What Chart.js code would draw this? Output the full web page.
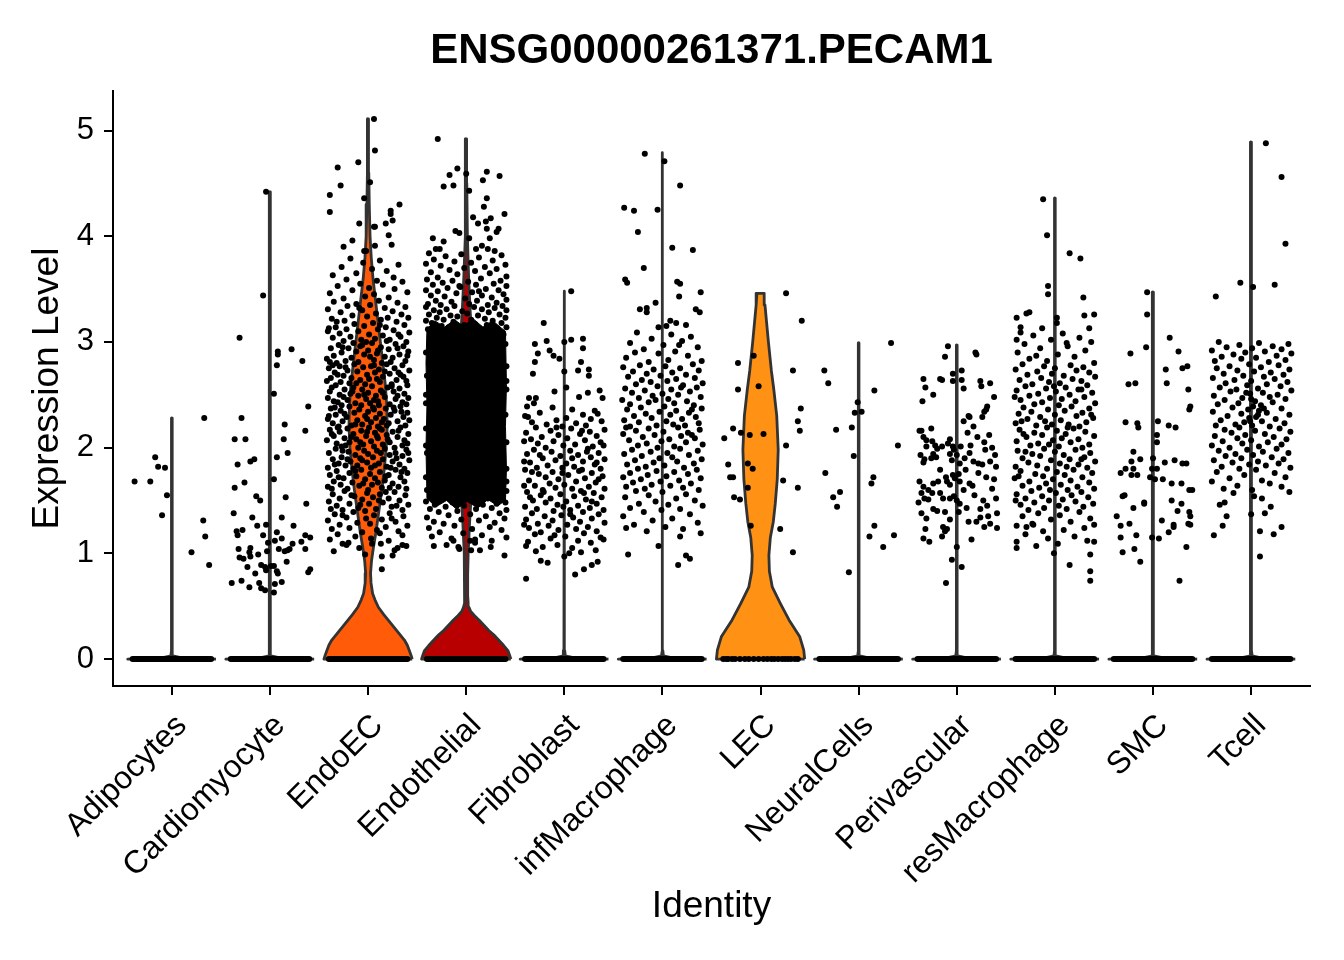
<!DOCTYPE html>
<html>
<head>
<meta charset="utf-8">
<script src="https://cdn.jsdelivr.net/npm/chart.js@4.4.1/dist/chart.umd.min.js"></script>
<style>
  html, body { margin: 0; padding: 0; background: #fff; }
  #wrap { width: 1344px; height: 960px; }
</style>
</head>
<body>
<div id="wrap"><canvas id="vln" width="1344" height="960" style="width:1344px;height:960px"></canvas></div>
<script>
const plotTitle = 'ENSG00000261371.PECAM1';
const categories = ['Adipocytes', 'Cardiomyocyte', 'EndoEC', 'Endothelial', 'Fibroblast', 'infMacrophage',
  'LEC', 'NeuralCells', 'Perivascular', 'resMacrophage', 'SMC', 'Tcell'];
const yTicks = [0, 1, 2, 3, 4, 5];

// max expression per identity (top of the trimmed violin)
const violinTops = [2.28, 4.42, 5.11, 4.92, 3.48, 4.79, 3.46, 2.99, 2.97, 4.36, 3.47, 4.89];
// identities whose zero cells pile up into a solid band
const denseZeros = [true, true, true, true, true, true, false, true, true, true, true, true];
const fillColors = ['#FFD92F', '#E78AC3', '#FF5B09', '#B80000', '#A6D854', '#8DA0CB',
  '#FF9214', '#66C2A5', '#FC8D62', '#E5C494', '#B3B3B3', '#1F78B4'];

// violin outlines as [expression, half width]
const spikeViolin = [[0,.45],[.008,.3],[.016,.08],[.03,.01],[.08,.004]];
const endoECViolin = [[0,.45],[.03,.44],[.08,.42],[.13,.40],[.18,.37],[.26,.30],[.34,.23],[.42,.16],[.49,.105],
  [.56,.07],[.62,.046],[.72,.03],[.81,.025],[.93,.035],[1.06,.055],[1.2,.08],[1.4,.11],[1.6,.14],[1.8,.165],
  [2.0,.185],[2.2,.195],[2.4,.19],[2.6,.175],[2.8,.15],[3.0,.125],[3.2,.10],[3.4,.075],[3.6,.05],[3.8,.032],
  [4.0,.02],[4.3,.012],[4.6,.007],[5.11,.004]];
const endothelialViolin = [[0,.455],[.03,.445],[.08,.425],[.13,.38],[.18,.33],[.23,.28],[.27,.23],[.32,.18],
  [.37,.13],[.41,.085],[.45,.046],[.49,.028],[.53,.02],[.6,.015],[.8,.015],[1.0,.02],[1.3,.035],[1.6,.055],
  [2.0,.08],[2.3,.09],[2.6,.085],[3.0,.06],[3.3,.04],[3.6,.025],[4.0,.012],[4.5,.006],[4.92,.004]];
const lecViolin = [[0,.45],[.085,.44],[.21,.40],[.37,.29],[.53,.20],[.68,.12],[.83,.09],[.98,.085],[1.15,.10],
  [1.3,.13],[1.47,.15],[1.7,.17],[1.98,.18],[2.3,.165],[2.55,.135],[2.73,.11],[3.0,.08],[3.2,.06],[3.35,.045],
  [3.46,.037]];
const violinShapes = [null, null, endoECViolin, endothelialViolin, null, null, lecViolin, null, null, null, null, null];

// cells as [jitter offset, expression]
const adipocytesPts = [[-.38,1.68],[-.22,1.68],[-.17,1.91],[-.14,1.82],[-.07,1.81],[-.05,1.55],[-.10,1.36],
  [.33,2.28],[.32,1.31],[.34,1.16],[.20,1.01],[.38,.89]];
const cardiomyocytePts = [[-.04,4.42],[-.07,3.44],[-.31,3.04],[.08,2.91],[.08,2.88],[.22,2.93],[.33,2.82],[.07,2.78],
  [.04,2.51],[-.29,2.28],[.39,2.39],[.15,2.22],[.36,2.16],[-.36,2.08],[-.25,2.08],[.14,2.08],[-.33,1.84],[-.20,1.87],
  [-.16,1.89],[.18,1.95],[.07,1.91],[.04,1.70],[-.36,1.62],[-.26,1.67],[-.14,1.54],[-.10,1.50],[.16,1.53],[.37,1.47],
  [-.37,1.38],[-.18,1.34],[-.13,1.26],[-.04,1.27],[.12,1.34],[.24,1.26],[-.34,1.21],[-.28,1.22],[-.33,1.17],[-.07,1.17],
  [.07,1.20],[-.02,1.10],[.05,1.12],[.12,1.14],[.36,1.17],[.41,1.15],[.32,1.11],[.23,1.09],[-.32,1.04],[-.20,1.05],
  [-.21,1.01],[-.20,.97],[-.12,.99],[-.03,1.02],[.09,1.04],[.15,1.02],[.18,1.03],[.20,1.04],[.36,1.04],[-.31,.96],
  [-.27,.95],[-.23,.87],[-.09,.89],[-.05,.87],[.01,.88],[.04,.88],[-.04,.84],[.07,.83],[.08,.81],[.17,.92],[-.15,.81],
  [-.39,.72],[-.29,.74],[-.21,.68],[-.11,.72],[-.09,.67],[-.05,.65],[.04,.63],[.05,.71],[.12,.73],[.39,.82],[.41,.85]];
const endoECPts = [[.06,5.11],[.07,4.81],[-.31,4.65],[-.10,4.70],[-.28,4.48],[.02,4.51],[-.39,4.39],[-.39,4.23],
  [-.04,4.36],[.32,4.30],[.23,4.24],[.23,4.21],[.25,4.15],[-.09,4.12],[.18,4.12],[.06,4.09],[.07,4.09],[.21,4.01],
  [-.16,3.96],[-.25,3.90],[.24,3.92],[-.02,3.86],[-.04,3.86],[.07,3.91],
  [-.26,1.09],[-.22,1.08],[-.03,.99],[.13,1.09],[.14,.97],[.25,.98],[.30,1.05],[.35,1.08],[.14,.85],[.04,1.09],
  [-.18,3.79],[.12,3.77],[-.05,3.75],[.31,3.73],[-.27,3.71],[.04,3.69],[.19,3.67],[-.12,3.65],[-.36,3.63],[.26,3.61],
  [-.22,3.59],[.09,3.58],[.35,3.57],[-.08,3.55],[.15,3.54],[-.31,3.53],[.01,3.51],[.27,3.50],[-.16,3.49],[.40,3.47],
  [-.39,3.46],[.06,3.45],[-.03,3.43],[.21,3.42],[-.25,3.41],
  [.11,3.39],[-.35,3.38],[.30,3.37],[-.12,3.36],[.02,3.35],[-.21,3.34],[.38,3.33],[.17,3.32],[-.41,3.31],[-.06,3.30],
  [.25,3.29],[-.28,3.28],[.08,3.27],[.34,3.26],[-.16,3.25],[-.01,3.24],[.20,3.23],[-.37,3.22],[.13,3.21],[-.24,3.20],
  [.41,3.23],[-.09,3.32],
  [.29,3.19],[-.32,3.19],[.05,3.18],[-.14,3.17],[.37,3.16],[-.04,3.15],[.18,3.14],[-.40,3.13],[-.22,3.12],[.10,3.12],
  [.26,3.11],[-.10,3.10],[.42,3.09],[-.29,3.08],[.01,3.07],[.15,3.06],[-.18,3.05],[.33,3.05],[-.36,3.04],[.07,3.03],
  [-.07,3.02],[.22,3.02],[-.25,3.01],[.39,3.00],[-.02,3.00],[-.41,3.10],[.12,3.16],[-.33,3.14],[.31,3.07],[.19,3.01],
  [-.15,2.99],[.04,2.99],[.28,2.98],[-.30,2.97],[.36,2.96],[-.08,2.96],[.13,2.95],[-.38,2.94],[-.20,2.94],[.21,2.93],
  [.00,2.92],[-.12,2.91],[.41,2.91],[-.27,2.90],[.09,2.89],[.32,2.88],[-.04,2.88],[-.35,2.87],[.17,2.86],[-.17,2.85],
  [.25,2.85],[-.42,2.84],[.06,2.83],[-.23,2.82],[.38,2.82],[-.10,2.81],[.14,2.80],[-.32,2.80],[.02,2.86],[.30,2.94],
  [-.06,2.97],[.23,2.81],[-.26,2.95],[.40,2.87],[.10,2.92],[-.39,2.81],
  [.19,2.79],[-.14,2.79],[.35,2.78],[-.29,2.77],[.03,2.77],[-.05,2.76],[.27,2.75],[-.40,2.75],[.11,2.74],[-.21,2.73],
  [.42,2.73],[-.11,2.72],[.07,2.71],[-.34,2.71],[.22,2.70],[-.01,2.69],[.33,2.69],[-.25,2.68],[.15,2.67],[-.17,2.66],
  [-.38,2.66],[.01,2.65],[.29,2.64],[-.08,2.64],[.39,2.63],[-.28,2.62],[.12,2.62],[-.19,2.61],[.24,2.60],[-.03,2.60],
  [-.42,2.63],[.06,2.78],[-.31,2.69],[.36,2.67],[.17,2.72],[-.23,2.76],[.09,2.65],[-.12,2.61],[.31,2.71],[-.36,2.78],
  [.40,2.59],[-.33,2.59],[.04,2.58],[-.15,2.57],[.20,2.57],[.32,2.56],[-.24,2.55],[-.06,2.55],[.13,2.54],[-.39,2.53],
  [.26,2.53],[.00,2.52],[-.18,2.51],[.37,2.51],[-.29,2.50],[.08,2.49],[-.10,2.49],[.17,2.48],[-.41,2.47],[.41,2.47],
  [-.02,2.46],[.28,2.46],[-.21,2.45],[.10,2.44],[-.35,2.44],[.35,2.43],[-.13,2.42],[.02,2.42],[.22,2.41],[-.27,2.40],
  [-.07,2.40],[.15,2.52],[-.37,2.57],[.30,2.49],[-.25,2.48],[.06,2.45],[-.16,2.53],[.39,2.41],[-.31,2.43],[.24,2.58],
  [-.04,2.50],[.11,2.40],
  [-.19,2.39],[.33,2.39],[.05,2.38],[-.38,2.37],[.18,2.37],[-.09,2.36],[.27,2.35],[-.28,2.35],[.00,2.34],[.40,2.33],
  [-.14,2.33],[.12,2.32],[-.33,2.31],[.23,2.31],[-.03,2.30],[-.22,2.29],[.36,2.29],[.08,2.28],[-.41,2.27],[.16,2.27],
  [-.11,2.26],[.30,2.25],[-.26,2.25],[.03,2.24],[-.36,2.23],[.21,2.23],[-.06,2.22],[.38,2.21],[-.17,2.21],[.10,2.20],
  [-.30,2.20],[.26,2.38],[-.24,2.32],[.14,2.24],[-.01,2.27],[.34,2.34],[-.40,2.30],[.06,2.36],[-.13,2.22],[.42,2.26],
  [-.34,2.38],[.19,2.21],
  [.01,2.19],[.33,2.19],[-.21,2.18],[.14,2.17],[-.39,2.17],[-.07,2.16],[.25,2.15],[-.29,2.15],[.07,2.14],[.41,2.13],
  [-.15,2.13],[.19,2.12],[-.35,2.11],[-.02,2.11],[.30,2.10],[-.24,2.09],[.10,2.09],[-.12,2.08],[.37,2.07],[-.42,2.07],
  [.03,2.06],[.22,2.05],[-.19,2.05],[-.32,2.04],[.15,2.03],[-.05,2.03],[.35,2.02],[-.27,2.01],[.06,2.01],[-.10,2.00],
  [.27,2.00],[-.37,2.13],[.12,2.18],[-.17,2.10],[.40,2.04],[-.01,2.15],[.20,2.08],[-.31,2.19],[.31,2.16],[-.08,2.05],
  [.09,2.11],[-.23,2.02],
  [.17,1.99],[-.33,1.99],[.39,1.98],[-.04,1.97],[.09,1.97],[-.20,1.96],[.28,1.95],[-.40,1.95],[.00,1.94],[-.13,1.93],
  [.22,1.93],[.35,1.92],[-.27,1.91],[.05,1.91],[-.08,1.90],[.15,1.89],[-.36,1.89],[.42,1.88],[-.18,1.87],[.25,1.87],
  [-.01,1.86],[-.30,1.85],[.11,1.85],[.32,1.84],[-.23,1.83],[-.11,1.83],[.19,1.82],[-.41,1.81],[.03,1.81],[.37,1.80],
  [-.15,1.80],[-.26,1.97],[.13,1.95],[-.06,1.88],[.29,1.90],[-.34,1.84],[.07,1.83],[.41,1.95],[-.21,1.89],[.23,1.81],
  [-.07,1.79],[.28,1.79],[-.32,1.78],[.12,1.77],[-.19,1.76],[.40,1.76],[.02,1.75],[-.39,1.74],[.21,1.74],[-.12,1.73],
  [.33,1.72],[-.25,1.71],[.07,1.71],[-.03,1.70],[.17,1.69],[-.35,1.68],[.37,1.68],[-.16,1.67],[.25,1.66],[-.28,1.65],
  [.04,1.65],[-.09,1.64],[.31,1.63],[-.41,1.63],[.14,1.62],[-.21,1.61],[.00,1.60],[.39,1.61],[-.30,1.72],[.10,1.67],
  [-.13,1.78],[.22,1.62],[-.37,1.61],[.34,1.77],[-.05,1.66],[.18,1.73],
  [-.24,1.59],[.27,1.58],[-.01,1.57],[.12,1.56],[-.36,1.56],[.38,1.55],[-.14,1.54],[.05,1.53],[-.29,1.52],[.21,1.52],
  [-.06,1.51],[.32,1.50],[-.40,1.49],[.15,1.48],[-.19,1.47],[.01,1.47],[.41,1.46],[-.32,1.45],[.24,1.44],[-.10,1.43],
  [.08,1.42],[-.26,1.41],[.35,1.41],[-.03,1.40],[.18,1.58],[-.38,1.42],[-.17,1.55],[.29,1.45],[-.08,1.46],[.11,1.50],
  [-.15,1.39],[.22,1.38],[-.34,1.37],[.06,1.36],[.36,1.35],[-.22,1.34],[-.02,1.33],[.14,1.32],[-.41,1.31],[.28,1.30],
  [-.11,1.29],[.02,1.28],[-.29,1.27],[.40,1.26],[.18,1.25],[-.19,1.24],[-.37,1.23],[.09,1.22],[.31,1.21],[-.06,1.20],
  [-.26,1.36],[.24,1.33],
  [.12,1.19],[-.31,1.18],[.35,1.17],[-.13,1.16],[.03,1.14],[-.39,1.13],[.21,1.12],[-.20,1.10],[.39,1.07],[-.09,1.05],
  [.27,1.03],[-.35,1.02]];
const endothelialPts = [[-.29,4.92],[-.09,4.64],[-.17,4.58],[-.23,4.47],[-.13,4.48],[.00,4.59],[.03,4.43],[.21,4.61],
  [.17,4.53],[.34,4.57],[.21,4.36],[.18,4.28],[.39,4.21],[.07,4.18],[.25,4.17],[.20,4.14],[.12,4.12],[.21,4.07],
  [.33,4.07],[.31,4.04],[-.11,4.05],[-.07,4.03],[-.34,3.98],[.03,3.98],[.24,3.98],[-.23,3.95],[.16,3.91],[-.27,3.88],
  [-.31,3.88],[.29,3.86],[.10,3.88],[.22,3.88],
  [-.38,3.84],[-.05,3.83],[.36,3.82],[-.21,3.81],[.13,3.80],[-.33,3.78],[.27,3.77],[-.12,3.76],[.05,3.75],[-.41,3.74],
  [.40,3.73],[-.26,3.72],[.19,3.71],[-.02,3.70],[.31,3.69],[-.17,3.68],[.09,3.67],[-.36,3.66],[.24,3.65],[-.09,3.64],
  [.41,3.62],[-.29,3.61],
  [.15,3.60],[-.40,3.59],[.35,3.58],[-.14,3.58],[.02,3.57],[-.24,3.56],[.28,3.55],[-.34,3.54],[.10,3.54],[.41,3.53],
  [-.06,3.52],[-.19,3.51],[.20,3.50],[-.41,3.49],[.33,3.49],[-.29,3.48],[.06,3.47],[-.10,3.46],[.38,3.45],[.16,3.44],
  [-.36,3.44],[-.22,3.43],[.26,3.42],[-.01,3.41],[.41,3.40],[-.31,3.39],[.11,3.39],[-.15,3.38],[.31,3.37],[-.39,3.36],
  [.03,3.36],[.22,3.35],[-.26,3.35],[-.07,3.53],[.13,3.48],
  [.37,3.34],[-.12,3.34],[-.41,3.33],[.08,3.33],[.29,3.32],[-.20,3.31],[.16,3.31],[-.33,3.30],[.41,3.30],[-.04,3.29],
  [.23,3.28],[-.27,3.28],[.01,3.27],[-.38,3.26],[.34,3.26],[-.16,3.25],[.12,3.25],[-.09,3.24],[.40,3.23],[-.30,3.23],
  [.19,3.22],[-.23,3.21],[.05,3.21],[-.41,3.20],[.27,3.20],[-.13,3.19],[.36,3.18],[-.35,3.18],[.09,3.17],[-.02,3.16],
  [.21,3.16],[-.25,3.15],[.41,3.14],[-.18,3.14],[.14,3.13],[-.39,3.12],[.31,3.12],[-.07,3.11],[-.30,3.10],[.03,3.10],
  [.25,3.09],[-.14,3.08],[.38,3.07],[-.36,3.07],[.17,3.06],
  [-.41,1.72],[.41,1.80],[-.40,1.95],[.41,2.05],[-.41,2.18],[.40,2.31],[-.41,2.42],[.41,2.55],[-.40,2.68],[.41,2.77],
  [-.41,2.90],[.40,2.98],[-.41,2.02],[.41,2.63],[-.41,2.50],[.41,1.68],
  [-.40,1.60],[.41,1.59],[-.30,1.58],[.28,1.57],[-.17,1.56],[.14,1.56],[.02,1.55],[-.36,1.54],[.36,1.53],[-.07,1.53],
  [.22,1.52],[-.26,1.51],[.07,1.50],[-.41,1.49],[.40,1.48],[-.14,1.48],[.31,1.47],[-.32,1.46],[.17,1.46],[-.02,1.45],
  [-.21,1.44],[.26,1.43],[-.37,1.42],[.10,1.42],[.41,1.41],[-.09,1.40],[-.28,1.39],[.34,1.38],[.04,1.37],[-.18,1.36],
  [.20,1.35],[-.40,1.34],[.39,1.33],[-.05,1.32],[.13,1.31],[-.33,1.30],[.29,1.29],[-.23,1.28],[-.12,1.26],[.24,1.25],
  [-.38,1.24],[.06,1.23],[.36,1.22],[-.27,1.20],[-.03,1.19],[.16,1.17],[-.35,1.16],[.41,1.15],[-.15,1.14],[.26,1.12],
  [.09,1.10],[-.33,1.07],[-.20,1.08],[-.13,1.12],[-.08,1.06],[-.07,1.04],[.05,1.03],[.14,1.03],[.25,1.06],[.39,.98],
  [.04,1.12],[.09,1.13]];
// region of the Endothelial cloud where overlapping cells leave no gap
const endothelialSolid = [[-.40,1.52],[-.41,2.0],[-.40,2.4],[-.41,2.8],[-.40,3.12],[-.32,3.2],[-.22,3.14],[-.12,3.21],
  [-.03,3.15],[.07,3.22],[.17,3.14],[.27,3.2],[.36,3.13],[.40,3.1],[.41,2.6],[.40,2.2],[.41,1.8],[.40,1.5],
  [.32,1.45],[.22,1.51],[.12,1.43],[.01,1.49],[-.1,1.42],[-.2,1.5],[-.31,1.44]];
const fibroblastPts = [[.07,3.48],[-.21,3.18],[-.30,2.98],[-.18,3.01],[.00,3.00],[.07,3.02],[.19,3.03],[-.27,2.89],
  [-.15,2.92],[-.11,2.87],[-.05,2.84],[.19,2.94],[-.30,2.81],[.17,2.81],[-.32,2.70],[.00,2.72],[.14,2.73],[.25,2.74],
  [.25,2.68],[.02,2.57],[-.10,2.53],[.36,2.54],[.24,2.52],[.15,2.48],[.39,2.47],[-.36,2.47],[-.29,2.47],[-.38,2.39],
  [-.31,2.42],
  [-.39,.76],[.11,.80],[.20,.85],[-.17,.91],[-.24,.93],[.28,.89],[.34,.92],[-.39,1.07],[.00,.97],[.05,1.00],
  [-.12,2.38],[.08,2.36],[.31,2.35],[-.25,2.33],[.19,2.31],[-.40,2.30],[.02,2.28],[.27,2.27],[-.08,2.26],[.38,2.25],
  [-.33,2.24],[.12,2.23],[-.18,2.22],[.22,2.21],[-.02,2.20],[-.37,2.29],[.34,2.32],
  [-.29,2.19],[.07,2.18],[.41,2.17],[-.14,2.16],[.26,2.15],[-.39,2.14],[.16,2.13],[-.06,2.12],[.33,2.11],[-.23,2.10],
  [.03,2.09],[-.34,2.08],[.21,2.07],[-.11,2.06],[.37,2.05],[-.27,2.04],[.11,2.03],[-.01,2.02],[.29,2.01],[-.19,2.00],
  [-.41,2.06],[.18,2.16],[-.08,2.19],[.40,2.02],
  [.24,1.99],[-.31,1.98],[.06,1.97],[-.13,1.96],[.35,1.95],[-.38,1.94],[.14,1.93],[-.04,1.92],[.27,1.91],[-.22,1.90],
  [.41,1.89],[-.09,1.88],[.19,1.87],[-.35,1.86],[.02,1.85],[.31,1.84],[-.17,1.83],[.10,1.82],[-.28,1.81],[.37,1.80],
  [-.02,1.81],[.23,1.96],[-.41,1.87],[.08,1.90],[-.25,1.93],[.33,1.86],
  [-.40,1.79],[.15,1.78],[-.12,1.77],[.28,1.76],[-.26,1.75],[.04,1.74],[.39,1.73],[-.19,1.72],[.21,1.71],[-.06,1.70],
  [-.36,1.69],[.12,1.68],[.32,1.67],[-.15,1.66],[.00,1.65],[-.30,1.64],[.25,1.63],[-.09,1.62],[.41,1.61],[-.22,1.60],
  [.08,1.61],[.18,1.79],[-.33,1.77],[.35,1.70],[-.02,1.76],[-.41,1.64],
  [.17,1.59],[-.38,1.58],[.30,1.57],[-.04,1.56],[-.24,1.55],[.10,1.54],[.38,1.53],[-.14,1.52],[.22,1.51],[-.32,1.50],
  [.02,1.49],[-.19,1.48],[.33,1.47],[-.07,1.46],[.14,1.45],[-.40,1.44],[.26,1.43],[-.28,1.42],[.06,1.41],[-.11,1.40],
  [.40,1.41],[-.35,1.53],[.20,1.57],[-.01,1.44],[.28,1.49],[-.21,1.58],
  [.19,1.39],[-.33,1.38],[.35,1.37],[-.03,1.36],[-.20,1.35],[.09,1.34],[.28,1.33],[-.39,1.32],[-.12,1.31],[.16,1.30],
  [.41,1.29],[-.27,1.28],[.03,1.27],[-.16,1.26],[.24,1.25],[-.36,1.24],[.12,1.23],[-.06,1.22],[.33,1.21],[-.24,1.20],
  [-.41,1.27],[.06,1.37],
  [.20,1.19],[-.30,1.18],[.01,1.16],[.37,1.15],[-.14,1.14],[.14,1.12],[-.37,1.11],[.27,1.10],[-.07,1.08],[-.22,1.06],
  [.08,1.05],[.32,1.03],[-.29,1.02],[.17,1.01],[-.10,1.17],[.40,1.13]];
const infMacrophagePts = [[-.18,4.78],[.02,4.71],[.18,4.48],[-.39,4.27],[-.29,4.24],[-.05,4.25],[-.25,4.04],[.10,3.89],
  [.31,3.87],[-.19,3.70],[-.38,3.59],[-.36,3.56],[.15,3.57],[.18,3.55],[.17,3.43],[.39,3.47],[-.07,3.37],[-.23,3.31],
  [-.16,3.32],[-.16,3.28],[.34,3.31],[.38,3.28],[-.04,3.14],[.04,3.15],[.08,3.20],[.14,3.18],[.24,3.16],
  [-.35,.99],[.16,.89],[.24,.98],[.28,.95],[-.04,1.07],[.18,1.16],[.39,1.19],[-.37,1.24],
  [-.26,3.09],[.09,3.07],[.29,3.05],[-.11,3.03],[.20,3.01],[-.33,2.99],[.01,2.97],[.36,2.95],[-.19,2.93],[.13,2.91],
  [-.04,2.89],[.26,2.87],[-.37,2.85],[.06,2.83],[-.14,2.81],[.40,2.82],[-.28,2.90],[.17,2.97],
  [.31,2.79],[-.23,2.78],[.03,2.77],[-.40,2.76],[.18,2.75],[-.09,2.74],[.37,2.73],[-.30,2.72],[.10,2.71],[-.16,2.70],
  [.24,2.69],[-.02,2.68],[-.35,2.67],[.33,2.66],[.14,2.65],[-.21,2.64],[.05,2.63],[-.12,2.62],[.41,2.61],[-.27,2.60],
  [.21,2.59],[-.05,2.58],[.35,2.57],[-.38,2.56],[.09,2.55],[-.18,2.54],[.28,2.53],[-.31,2.52],[.00,2.51],[.16,2.50],
  [-.10,2.49],[.39,2.48],[-.24,2.47],[.06,2.46],[-.41,2.45],[.25,2.44],[-.14,2.43],[.12,2.42],[-.33,2.41],[.32,2.40],
  [-.07,2.45],[.19,2.57],
  [.02,2.39],[-.22,2.38],[.40,2.37],[-.36,2.36],[.14,2.35],[-.03,2.34],[.27,2.33],[-.17,2.32],[.08,2.31],[-.29,2.30],
  [.34,2.29],[-.11,2.28],[.20,2.27],[-.39,2.26],[.04,2.25],[-.24,2.24],[.37,2.23],[.11,2.22],[-.06,2.21],[-.33,2.20],
  [.23,2.21],[.30,2.36],
  [.16,2.19],[-.14,2.18],[.38,2.17],[-.27,2.16],[.01,2.15],[.26,2.14],[-.40,2.13],[-.08,2.12],[.19,2.11],[-.20,2.10],
  [.33,2.09],[.07,2.08],[-.34,2.07],[-.01,2.06],[.24,2.05],[-.16,2.04],[.41,2.03],[-.25,2.02],[.12,2.01],[-.05,2.00],
  [.30,2.12],[-.37,2.19],
  [.18,1.99],[-.31,1.98],[.36,1.97],[-.12,1.96],[.05,1.95],[-.39,1.94],[.27,1.93],[-.21,1.92],[.10,1.91],[-.03,1.90],
  [.40,1.89],[-.28,1.88],[.15,1.87],[-.09,1.86],[.32,1.85],[-.36,1.84],[.02,1.83],[-.17,1.82],[.22,1.81],[-.25,1.80],
  [.35,1.79],[-.06,1.78],[.12,1.77],[-.33,1.76],[.26,1.75],[-.15,1.74],[.04,1.73],[-.40,1.72],[.39,1.71],[-.22,1.70],
  [.17,1.69],[-.02,1.68],[-.30,1.67],[.29,1.66],[-.11,1.65],[.08,1.64],[-.37,1.63],[.21,1.62],[-.18,1.61],[.37,1.60],
  [-.27,1.59],[.00,1.58],[.24,1.56],[-.14,1.55],[-.38,1.53],[.14,1.52],[.33,1.50],[-.07,1.49],[-.24,1.47],[.06,1.46],
  [.41,1.45],[-.33,1.43],[.18,1.42],[-.01,1.41],
  [-.19,1.39],[.28,1.37],[-.40,1.35],[.10,1.33],[-.10,1.31],[.36,1.29],[-.29,1.27],[.03,1.25],[.21,1.23],[-.16,1.21]];
const lecPts = [[-.23,2.80],[-.07,2.87],[-.23,2.55],[-.02,2.58],[.26,3.46],[.42,3.20],[.33,2.73],[.41,2.37],[.38,2.25],
  [.40,2.16],[-.37,2.09],[-.28,2.18],[-.20,2.14],[-.11,2.12],[.03,2.13],[.26,2.02],[-.33,1.84],[-.31,1.72],[-.28,1.72],
  [-.13,1.85],[-.08,1.80],[-.13,1.62],[-.27,1.53],[-.21,1.51],[.23,1.69],[.38,1.62],[-.10,1.26],[.20,1.23],[.33,1.01],
  [-.38,0],[-.35,0],[-.33,0],[-.29,0],[-.26,0],[-.21,0],[-.16,0],[-.12,0],[-.07,0],[-.02,0],[.03,0],[.07,0],[.11,0],
  [.14,0],[.18,0],[.22,0],[.25,0],[.28,0],[.31,0],[.35,0],[.38,0]];
const neuralCellsPts = [[-.35,2.73],[-.31,2.61],[-.01,2.43],[-.04,2.33],[.03,2.34],[.16,2.54],[.33,2.99],[-.23,2.17],
  [-.07,2.19],[-.05,1.92],[.40,2.02],[-.34,1.76],[-.26,1.53],[-.19,1.58],[-.22,1.44],[.15,1.72],[.13,1.66],[.16,1.26],
  [.11,1.16],[.36,1.17],[.25,1.06],[-.10,.82]];
const perivascularPts = [[-.09,2.96],[.19,2.90],[.20,2.88],[-.12,2.86],[-.34,2.65],[-.32,2.57],[-.17,2.65],[-.15,2.64],
  [-.04,2.70],[.05,2.73],[-.04,2.63],[.05,2.64],[.07,2.56],[-.24,2.50],[.24,2.63],[.34,2.61],[.25,2.58],[.38,2.48],
  [-.35,2.44],[.31,2.39],[.30,2.36],[.28,2.34],[.12,2.30],[.13,2.29],[.07,2.25],[.17,2.20],[.26,2.29],[-.38,2.16],
  [-.36,2.16],[-.26,2.18],[-.34,2.10],[-.31,2.07],[-.25,2.06],[-.31,2.01],[-.22,2.02],[-.20,1.99],[-.15,2.01],[-.07,2.08],
  [-.09,2.04],[-.04,2.01],[-.03,1.98],[.04,2.01],[.14,2.02],[.28,2.05],[.29,1.98],[-.37,1.93],[-.33,1.89],[-.34,1.86],
  [-.24,1.94],[-.26,1.90],[-.21,1.91],[-.07,1.94],[-.05,1.88],[.00,1.93],[.03,1.85],[.08,1.90],[.13,1.95],[.17,1.87],
  [.22,1.85],[.26,1.84],[.34,1.87],[.39,1.93],[.40,1.82],[-.17,1.79],[-.11,1.72],[-.04,1.74],[.02,1.75],[-.38,1.68],
  [-.34,1.63],[-.29,1.60],[-.24,1.66],[-.19,1.68],[-.10,1.68],[-.07,1.65],[-.02,1.71],[.03,1.68],[.07,1.60],[.13,1.66],
  [.16,1.64],[.27,1.50],[.36,1.61],[.40,1.52],[-.39,1.48],[-.36,1.57],[-.33,1.52],[-.29,1.51],[-.25,1.57],[-.17,1.57],
  [-.14,1.52],[-.07,1.52],[-.03,1.54],[.00,1.50],[.03,1.47],[-.36,1.38],[-.31,1.33],[-.24,1.42],[-.20,1.40],[-.12,1.39],
  [-.07,1.32],[.02,1.39],[.12,1.30],[.20,1.30],[.24,1.34],[.32,1.35],[.34,1.28],[.41,1.38],[-.32,1.23],[-.14,1.25],
  [-.10,1.23],[.15,1.13],[.41,1.24],[.28,1.25],[-.34,1.14],[-.28,1.11],[-.15,1.16],[-.12,1.21],[.00,1.06],[-.05,.94],
  [.05,.87],[-.11,.72],[.33,2.12],[.21,2.10],[.36,2.00],[.11,2.14],[.22,1.76],[.30,1.72],[.09,1.79],[.38,1.70],
  [.18,1.55],[.31,1.45],[.10,1.43],[.24,1.42]];
const resMacrophagePts = [[-.12,4.35],[-.08,4.01],[.15,3.84],[.26,3.79],[-.07,3.53],[-.07,3.45],[.29,3.42],[-.39,3.23],
  [-.29,3.27],[-.26,3.28],[.02,3.23],[.02,3.18],[.30,3.25],[.40,3.26],[-.35,3.14],[-.35,3.09],[-.13,3.13],[-.39,3.02],
  [.35,3.13],
  [-.39,1.11],[-.39,1.05],[-.01,1.00],[.15,.89],[.36,.83],[.40,1.11],[.36,.99],[-.29,1.25],[-.22,1.27],[.36,.74],
  [.08,3.08],[-.22,3.06],[.25,3.04],[-.04,3.02],[.37,3.00],[-.31,2.98],[.13,2.96],[-.15,2.94],[.31,2.92],[-.38,2.90],
  [.03,2.88],[.20,2.86],[-.26,2.84],[-.08,2.82],[.40,2.80],[.12,2.99],[-.19,2.87],
  [-.33,2.79],[.16,2.78],[-.11,2.77],[.29,2.76],[.00,2.75],[-.40,2.74],[.22,2.73],[-.18,2.72],[.35,2.71],[-.03,2.70],
  [-.28,2.69],[.09,2.68],[.41,2.67],[-.14,2.66],[.18,2.65],[-.36,2.64],[.27,2.63],[-.06,2.62],[.05,2.61],[-.23,2.60],
  [.33,2.59],[-.30,2.58],[.11,2.57],[-.09,2.56],[.24,2.55],[-.39,2.54],[.01,2.53],[.38,2.52],[-.17,2.51],[.15,2.50],
  [-.26,2.49],[.30,2.48],[-.05,2.47],[.07,2.46],[-.35,2.45],[.21,2.44],[-.13,2.43],[.41,2.42],[-.21,2.41],[.04,2.40],
  [-.41,2.48],[.27,2.55],[-.01,2.58],
  [.17,2.39],[-.32,2.38],[.35,2.37],[-.07,2.36],[.10,2.35],[-.24,2.34],[.28,2.33],[-.37,2.32],[.00,2.31],[.22,2.30],
  [-.15,2.29],[.39,2.28],[-.28,2.27],[.06,2.26],[-.10,2.25],[.32,2.24],[-.40,2.23],[.14,2.22],[-.19,2.21],[.25,2.20],
  [-.03,2.22],[.37,2.31],[-.34,2.25],
  [-.08,2.19],[.19,2.18],[-.36,2.17],[.02,2.16],[.31,2.15],[-.21,2.14],[.11,2.13],[-.13,2.12],[.40,2.11],[-.29,2.10],
  [.07,2.09],[.24,2.08],[-.02,2.07],[-.39,2.06],[.16,2.05],[-.17,2.04],[.35,2.03],[-.25,2.02],[.04,2.01],[.28,2.00],
  [-.32,2.13],[.13,2.19],[-.06,2.03],
  [-.11,1.99],[.21,1.98],[-.38,1.97],[.00,1.96],[.36,1.95],[-.23,1.94],[.09,1.93],[-.15,1.92],[.30,1.91],[-.33,1.90],
  [.15,1.89],[-.04,1.88],[.41,1.87],[-.27,1.86],[.05,1.85],[.24,1.84],[-.18,1.83],[-.40,1.82],[.33,1.81],[-.08,1.80],
  [.12,1.82],[-.30,1.96],[.27,1.89],
  [.19,1.79],[-.35,1.78],[.02,1.77],[.38,1.76],[-.20,1.75],[.10,1.74],[-.12,1.73],[.28,1.72],[-.41,1.71],[-.02,1.70],
  [.16,1.69],[-.26,1.68],[.35,1.67],[-.09,1.66],[.06,1.65],[-.33,1.64],[.23,1.63],[-.16,1.62],[.40,1.61],[-.05,1.60],
  [.13,1.60],[-.37,1.73],
  [-.24,1.59],[.27,1.58],[.01,1.57],[-.39,1.56],[.17,1.55],[-.13,1.54],[.34,1.53],[-.30,1.52],[.08,1.51],[-.06,1.50],
  [.21,1.49],[-.21,1.48],[.39,1.47],[-.35,1.46],[.04,1.45],[.29,1.44],[-.11,1.43],[.12,1.42],[-.27,1.41],[-.40,1.50],
  [.25,1.39],[-.17,1.38],[.05,1.36],[-.33,1.35],[.36,1.33],[-.04,1.32],[.16,1.30],[-.23,1.28],[-.39,1.26],[.30,1.24],
  [.09,1.22],[-.12,1.21],[.40,1.27],
  [-.30,1.18],[.20,1.16],[-.07,1.14],[.33,1.12],[.03,1.09],[-.19,1.07]];
const smcPts = [[-.06,3.47],[-.06,3.26],[-.07,2.95],[-.23,2.89],[.17,3.04],[.26,2.91],[.13,2.74],[.14,2.61],[.30,2.75],
  [.35,2.77],[-.25,2.60],[-.18,2.61],[.36,2.55],[.38,2.39],[.37,2.36],[-.28,2.24],[-.16,2.23],[-.15,2.19],[.05,2.25],
  [.16,2.21],[.23,2.19],[.04,2.12],[.04,2.05],[-.20,1.96],[-.22,1.87],[-.13,1.89],[.00,1.90],[-.01,1.80],[.04,1.80],
  [.12,1.86],[.22,1.88],[.30,1.85],[.34,1.85],[-.33,1.76],[-.28,1.80],[-.20,1.80],[-.22,1.74],[-.16,1.74],[-.03,1.72],
  [.02,1.70],[.10,1.70],[.19,1.66],[.29,1.66],[.37,1.60],[.40,1.60],[-.29,1.55],[-.31,1.54],[-.20,1.43],[-.09,1.48],
  [-.09,1.47],[.19,1.50],[.29,1.47],[.25,1.40],[.37,1.39],[.38,1.35],[-.37,1.35],[-.33,1.26],[-.24,1.28],[.09,1.31],
  [.21,1.27],[.21,1.25],[.16,1.20],[.36,1.28],[.38,1.27],[-.33,1.15],[-.17,1.17],[-.01,1.15],[.06,1.14],[-.31,1.01],
  [-.19,1.04],[-.13,.92],[.34,1.06],[.27,.74]];
const tcellPts = [[.15,4.88],[.31,4.56],[.35,3.93],[-.11,3.56],[.02,3.52],[.24,3.54],[-.36,3.43],[.09,.97],[-.38,1.17],
  [-.29,1.26],[.31,1.25],[.23,1.18],[.09,1.21],
  [-.32,1.46],[-.27,1.48],[-.25,1.35],[.00,1.37],[.14,1.38],[.03,1.54],[.11,1.52],[.20,1.44],
  [-.33,3.00],[.08,2.99],[.38,2.98],[-.12,2.97],[.22,2.96],[-.25,2.95],[.01,2.94],[.31,2.93],[-.40,2.92],[.14,2.91],
  [-.06,2.90],[.41,2.89],[-.18,2.88],[.26,2.87],[-.30,2.86],[.05,2.85],[-.10,2.84],[.35,2.83],[-.37,2.82],[.18,2.81],
  [-.02,2.79],[.28,2.78],[-.22,2.77],[.10,2.76],[-.35,2.75],[.39,2.74],[-.14,2.73],[.03,2.72],[.20,2.71],[-.28,2.70],
  [.33,2.69],[-.08,2.68],[.13,2.67],[-.39,2.66],[.24,2.65],[-.17,2.64],[.00,2.63],[.37,2.62],[-.26,2.61],[.16,2.60],
  [-.04,2.59],[.30,2.58],[-.32,2.57],[.07,2.56],[-.15,2.55],[.41,2.54],[-.21,2.53],[.12,2.52],[-.01,2.51],[.27,2.50],
  [-.38,2.49],[.19,2.48],[-.09,2.47],[.35,2.46],[-.27,2.45],[.04,2.44],[.22,2.43],[-.13,2.42],[-.34,2.41],[.10,2.40],
  [.00,2.46],[-.05,2.52],
  [.02,2.39],[-.19,2.38],[.31,2.37],[-.03,2.36],[.08,2.35],[-.39,2.34],[.16,2.33],[-.10,2.32],[.39,2.31],[-.24,2.30],
  [.05,2.29],[-.02,2.28],[.25,2.27],[-.31,2.26],[.11,2.25],[-.07,2.24],[.34,2.23],[-.16,2.22],[.01,2.21],[.19,2.20],
  [-.36,2.21],[.07,2.31],[-.01,2.25],[.13,2.37],
  [-.12,2.19],[.29,2.18],[-.27,2.17],[.04,2.16],[.40,2.15],[-.20,2.14],[.14,2.13],[-.06,2.12],[-.37,2.11],[.23,2.10],
  [-.14,2.09],[.36,2.08],[.00,2.07],[-.29,2.06],[.17,2.05],[-.09,2.04],[.31,2.03],[-.40,2.02],[.08,2.01],[-.22,2.00],
  [.26,1.99],[-.04,1.98],[-.33,1.97],[.12,1.96],[.38,1.95],[-.16,1.94],[.02,1.93],[-.26,1.92],[.21,1.91],[-.10,1.90],
  [.33,1.89],[-.38,1.88],[.07,1.87],[-.19,1.86],[.28,1.85],[-.02,1.84],[.15,1.83],[-.30,1.82],[.40,1.81],[-.12,1.80],
  [.05,1.79],[-.35,1.77],[.24,1.76],[-.07,1.74],[.35,1.72],[-.22,1.71],[.11,1.69],[-.40,1.68],[.19,1.66],[-.14,1.64],
  [.31,1.63],[-.28,1.61],[.01,1.60],[.39,1.58],[-.18,1.57]];
const pointSets = [adipocytesPts, cardiomyocytePts, endoECPts, endothelialPts, fibroblastPts, infMacrophagePts,
  lecPts, neuralCellsPts, perivascularPts, resMacrophagePts, smcPts, tcellPts];

const FONT = '"Liberation Sans", Arial, Helvetica, sans-serif';
const JITTER = 0.4;

const datasets = [];
categories.forEach((name, i) => {
  const c = i + 1;
  const shape = violinShapes[i] || spikeViolin.concat([[violinTops[i], 0.003]]);
  const right = shape.map(([y, w]) => ({ x: c + w, y }));
  const left = shape.slice().reverse().map(([y, w]) => ({ x: c - w, y }));
  datasets.push({
    type: 'line',
    data: right.concat(left, [right[0]]),
    borderColor: '#333333',
    borderWidth: 2.8,
    borderJoinStyle: 'round',
    backgroundColor: fillColors[i],
    fill: 'shape',
    pointRadius: 0,
    tension: 0,
    order: 3
  });
  if (denseZeros[i]) {
    datasets.push({
      type: 'line',
      data: [{ x: c - JITTER, y: 0 }, { x: c + JITTER, y: 0 }],
      borderColor: '#000',
      borderWidth: 6,
      borderCapStyle: 'round',
      pointRadius: 0,
      fill: false,
      order: 2
    });
  }
  datasets.push({
    type: 'scatter',
    data: pointSets[i].map(([dx, y]) => ({ x: c + dx, y })),
    backgroundColor: '#000',
    borderWidth: 0,
    pointRadius: 3,
    order: 0
  });
});

const solid = endothelialSolid.map(([dx, y]) => ({ x: 4 + dx, y }));
datasets.push({
  type: 'line',
  data: solid.concat([solid[0]]),
  borderColor: '#000',
  borderWidth: 1,
  backgroundColor: '#000',
  fill: 'shape',
  pointRadius: 0,
  tension: 0,
  order: 1
});

const titlePlugin = {
  id: 'plotTitle',
  afterDraw(chart) {
    const { ctx, chartArea } = chart;
    ctx.save();
    ctx.font = 'bold 42px ' + FONT;
    ctx.fillStyle = '#000';
    ctx.textAlign = 'center';
    ctx.textBaseline = 'alphabetic';
    ctx.fillText(plotTitle, (chartArea.left + chartArea.right) / 2, 63);
    ctx.restore();
  }
};

Chart.defaults.font.family = FONT;
Chart.defaults.color = '#000';

new Chart(document.getElementById('vln'), {
  type: 'scatter',
  data: { datasets },
  plugins: [titlePlugin],
  options: {
    responsive: false,
    animation: false,
    devicePixelRatio: 1,
    events: [],
    layout: { padding: { left: 0, right: 34, top: 91, bottom: 0 } },
    plugins: { legend: { display: false }, tooltip: { enabled: false } },
    scales: {
      x: {
        type: 'linear',
        min: 0.4,
        max: 12.6,
        afterBuildTicks: (scale) => { scale.ticks = categories.map((_, i) => ({ value: i + 1 })); },
        afterFit: (scale) => { scale.height = 274; },
        ticks: {
          autoSkip: false,
          minRotation: 45,
          maxRotation: 45,
          padding: 12,
          labelOffset: 10,
          color: '#000',
          font: { size: 32 },
          callback: (v) => categories[v - 1]
        },
        grid: { display: true, drawOnChartArea: false, drawTicks: true, tickLength: 9, color: '#000', lineWidth: 2 },
        border: { display: true, color: '#000', width: 2 },
        title: { display: true, text: 'Identity', color: '#000', font: { size: 37 }, padding: { top: 0, bottom: 31 } }
      },
      y: {
        type: 'linear',
        min: -0.255,
        max: 5.374,
        afterBuildTicks: (scale) => { scale.ticks = yTicks.map((v) => ({ value: v })); },
        afterFit: (scale) => { scale.width = 113; },
        ticks: { padding: 10, color: '#000', font: { size: 31 } },
        grid: { display: true, drawOnChartArea: false, drawTicks: true, tickLength: 9, color: '#000', lineWidth: 2 },
        border: { display: true, color: '#000', width: 2 },
        title: { display: true, text: 'Expression Level', color: '#000', font: { size: 37 }, padding: { top: 26, bottom: 0 } }
      }
    }
  }
});
</script>
</body>
</html>
